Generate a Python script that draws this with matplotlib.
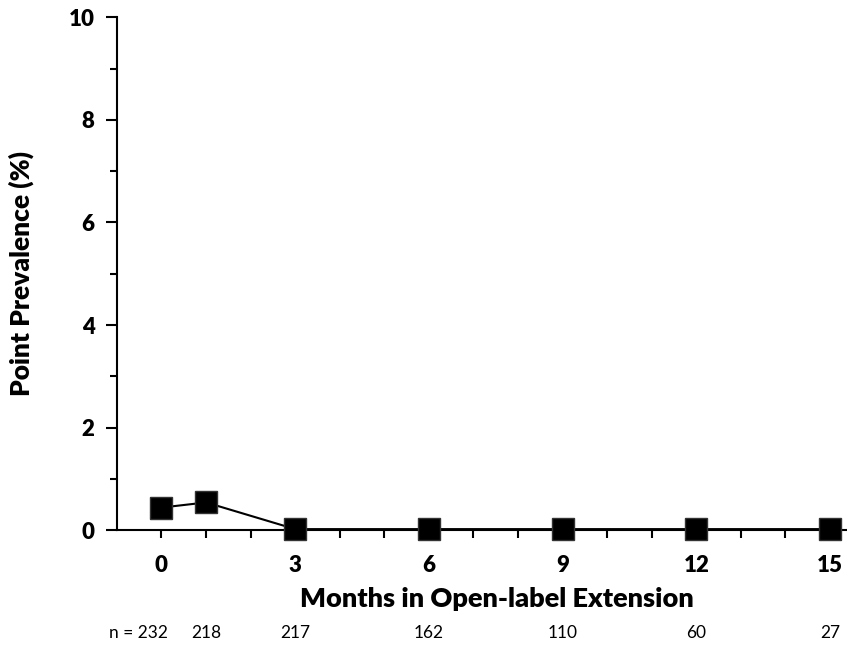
import matplotlib
matplotlib.use("Agg")
import matplotlib.pyplot as plt
import matplotlib.transforms as mtransforms

plt.rcParams['font.family'] = ['Lato', 'DejaVu Sans']

# Data
months = [0, 1, 3, 6, 9, 12, 15]
prevalence = [0.44, 0.54, 0.02, 0.02, 0.02, 0.02, 0.02]
n_labels = ["n = 232", "218", "217", "162", "110", "60", "27"]
x_ticks = [0, 3, 6, 9, 12, 15]
y_ticks = [0, 2, 4, 6, 8, 10]

fig = plt.figure(figsize=(8.47, 6.66), dpi=100)
ax = fig.add_axes([0.138, 0.204, 0.862, 0.770])

ax.plot(months, prevalence, color='black', lw=1.5, marker='s', ms=16,
        markerfacecolor='black', markeredgecolor='#333333', clip_on=False, zorder=3)

ax.set_xlim(-1, 15.38)
ax.set_ylim(0, 10)

ax.spines['top'].set_visible(False)
ax.spines['right'].set_visible(False)
ax.spines['left'].set_linewidth(1.5)
ax.spines['bottom'].set_linewidth(1.5)
ax.spines['bottom'].set_position(('data', 0))

ax.set_xticks(x_ticks)
ax.set_xticks(range(0, 16), minor=True)
ax.set_yticks(y_ticks)
ax.set_yticks([1, 3, 5, 7, 9], minor=True)
ax.tick_params(axis='x', which='both', direction='out', length=6, width=1.5, pad=12)
ax.tick_params(axis='y', which='major', direction='out', length=8, width=1.5, pad=8)
ax.tick_params(axis='y', which='minor', direction='out', length=5, width=1.5)
for lab in ax.get_xticklabels() + ax.get_yticklabels():
    lab.set_fontsize(16)
    lab.set_fontweight('heavy')

ax.set_xlabel("Months in Open-label Extension", fontsize=19.5, fontweight='heavy')
ax.set_ylabel("Point Prevalence (%)", fontsize=19, fontweight='heavy')
ax.xaxis.set_label_coords(0.52, -0.11)
ax.yaxis.set_label_coords(-0.113, 0.5)

# sample sizes under each time point
trans = mtransforms.blended_transform_factory(ax.transData, fig.transFigure)
for i, (m, lab) in enumerate(zip(months, n_labels)):
    if i == 0:
        ax.text(m + 0.15, 1 - 633 / 666, lab, transform=trans, ha='right', va='center',
                fontsize=12.5, clip_on=False)
    else:
        ax.text(m, 1 - 633 / 666, lab, transform=trans, ha='center', va='center',
                fontsize=12.5, clip_on=False)

fig.savefig("out.png", dpi=100)
